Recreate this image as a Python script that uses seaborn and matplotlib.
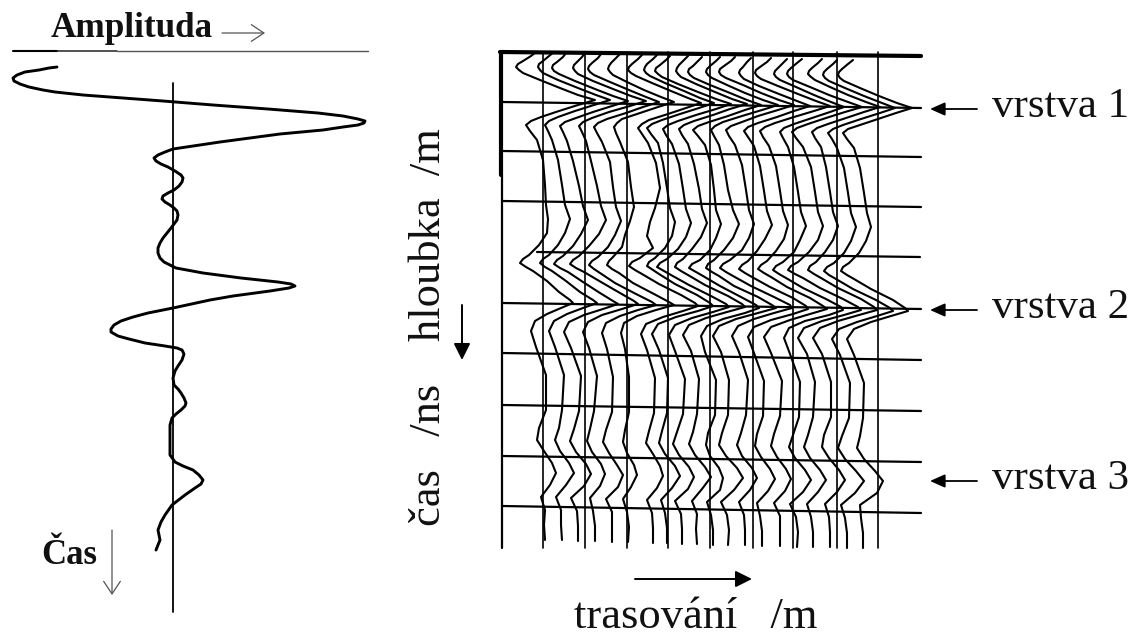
import matplotlib
matplotlib.use('Agg')
import matplotlib.pyplot as plt
import pandas as pd
import seaborn as sns

sns.set_style("white")
plt.rcParams['font.family'] = ['Liberation Serif', 'DejaVu Serif']

# left panel: single wavelet, sample positions in picture units
wavelet_time = [67, 68, 70, 72, 75, 78, 81, 84, 87, 90, 92, 95, 98, 101, 105, 109, 113, 116, 119, 121, 123, 125, 127, 130,
                134, 142, 149, 152, 155, 158, 161, 164, 167, 171, 175, 178, 182, 186, 190, 193, 196, 199, 202, 205, 208, 211,
                215, 220, 228, 238, 243, 248, 253, 258, 262, 265, 268, 273, 278, 282, 284, 286, 288, 291, 296, 300, 308, 313,
                317, 321, 325, 329, 332, 336, 339, 343, 346, 348, 350, 354, 360, 366, 371, 378, 385, 389, 393, 398, 403, 406,
                410, 414, 418, 425, 440, 455, 462, 466, 470, 475, 480, 484, 488, 495, 505, 515, 522, 530, 540, 550]
wavelet_amp = [-116, -124, -134, -148, -156, -160, -159, -153, -144, -130, -118, -90, -50, -10, 40, 95, 145, 170, 185, 192, 191,
               185, 170, 150, 107, 47, 0, -8, -15, -19, -17, -12, -5, 2, 8, 10, 9, 6, 1, -5, -10, -11, -8, -3, 1, 4, 5, 4, -2,
               -10, -13, -15, -15, -13, -9, -3, 3, 30, 68, 105, 118, 122, 116, 97, 60, 37, 0, -25, -40, -52, -59, -62, -62,
               -55, -44, -28, -8, 4, 9, 11, 9, 5, 2, 0, 1, 5, 8, 11, 13, 12, 8, 3, -1, -3, -3, -3, 2, 10, 20, 26, 30, 28, 22,
               12, -1, -8, -12, -15, -13, -17]

# right panel: radargram, one offset list per trace, all read at trace_depth
trace_depth = [57, 61, 66, 69, 72, 75, 78, 85, 93, 100, 105, 110, 116, 122, 126, 130, 136, 145, 165, 190, 210, 224, 238, 250, 260, 264, 268, 272,
               276, 286, 297, 305, 308, 313, 319, 326, 336, 352, 380, 415, 433, 445, 456, 468, 478, 490, 502, 515, 530, 545]
trace_base = [545, 562, 578, 595, 612, 628, 653, 667, 682, 697, 713, 728, 745, 762, 780, 797, 813, 830, 847, 863]
trace_tilt = [-5, -5, -4, -4, -3, -3, -2, -2, -1, -1, 0, 0, 0, 1, 1, 2, 2, 2, 3, 3]
trace_offset = [
    [-9, -14, -22, -27, -29, -26, -22, -5, 15, 33, 50, 33, 14, -4, -14, -19, -15, -8, -2, 0, 1, 3, 2, -6, -16, -22, -25, -19, -12, 2, 14, 25, 28, 16, 2, -10, -14, -9, 1, 1, -6, -8, -1, 7, 11, 5, -4, 0, -1, 0],
    [-8, -13, -19, -23, -24, -22, -19, -4, 16, 34, 48, 32, 13, -4, -13, -17, -14, -10, -4, 0, 3, 8, 3, -4, -13, -19, -22, -17, -10, 4, 18, 31, 35, 21, 5, -8, -13, -7, 2, 0, -3, -7, -2, 7, 12, 4, -6, -1, -1, 0],
    [-12, -15, -21, -25, -26, -24, -19, -3, 17, 35, 50, 34, 15, -2, -13, -18, -15, -11, -5, 1, 5, 10, 3, -5, -15, -21, -24, -18, -10, 5, 22, 35, 40, 25, 6, -9, -14, -7, 3, 1, -4, -8, -2, 8, 13, 6, -7, -1, 0, 0],
    [-10, -13, -18, -21, -22, -20, -17, -2, 18, 36, 51, 35, 14, -3, -12, -16, -13, -9, -4, 2, 6, 11, 4, -6, -16, -22, -25, -19, -11, 6, 25, 39, 43, 27, 7, -7, -12, -6, 2, -1, -5, -8, -3, 6, 10, 5, -5, -2, 0, 0],
    [-11, -14, -20, -23, -24, -22, -18, -2, 17, 34, 47, 31, 14, -5, -14, -18, -15, -10, -2, 1, 4, 9, 3, -4, -14, -20, -23, -18, -12, 3, 24, 40, 44, 26, 8, -6, -10, -5, 1, 0, -6, -9, -3, 5, 11, 6, -6, 0, 0, 0],
    [-8, -12, -17, -19, -20, -18, -15, -1, 16, 33, 46, 30, 12, -6, -11, -14, -12, -8, 0, 3, 6, 2, -3, -6, -15, -19, -21, -16, -9, 5, 26, 41, 46, 28, 9, -4, -7, -3, 1, 1, -3, -5, -1, 6, 9, 3, -5, -1, 1, 0],
    [-11, -15, -21, -24, -25, -22, -17, -1, 18, 35, 48, 33, 15, -4, -11, -15, -11, -5, 3, 7, 2, -3, -6, 0, -13, -21, -24, -18, -11, 6, 28, 42, 45, 30, 10, -7, -12, -6, 2, 1, -4, -7, 0, 7, 10, 4, -6, -1, 0, 0],
    [-10, -14, -20, -22, -23, -21, -17, -2, 17, 33, 47, 32, 13, -5, -15, -20, -16, -9, -4, 0, 3, 8, 5, -2, -12, -18, -20, -14, -8, 8, 30, 43, 46, 31, 9, -9, -15, -8, 1, 0, -5, -8, -2, 8, 13, 5, -6, -2, 0, 0],
    [-12, -16, -22, -26, -27, -24, -20, -4, 16, 34, 49, 34, 14, -4, -14, -19, -16, -10, -3, 1, 4, 9, 4, -4, -15, -22, -25, -18, -11, 7, 29, 44, 47, 31, 10, -7, -13, -7, 3, 1, -5, -9, -3, 7, 12, 6, -7, -1, 0, 0],
    [-9, -13, -18, -20, -21, -19, -16, -1, 18, 35, 50, 33, 16, -3, -13, -18, -15, -9, -3, 2, 5, 10, 4, -5, -14, -20, -22, -16, -9, 8, 31, 45, 48, 30, 9, -8, -14, -6, 2, 0, -4, -8, -2, 8, 14, 5, -5, 0, -1, 0],
    [-11, -15, -20, -24, -25, -23, -19, -3, 17, 34, 48, 32, 15, -4, -15, -20, -15, -8, -2, 1, 3, 8, 3, -3, -13, -21, -24, -17, -10, 7, 28, 43, 46, 32, 10, -6, -12, -8, 3, 2, -5, -7, -3, 6, 10, 7, -6, -2, 0, 0],
    [-8, -12, -18, -21, -22, -20, -16, -1, 17, 35, 50, 34, 14, -5, -13, -17, -14, -9, -4, 0, 5, 11, 5, -4, -14, -20, -22, -16, -9, 6, 30, 44, 48, 30, 8, -9, -15, -7, 1, 0, -6, -9, -2, 9, 15, 6, -7, -1, 1, 0],
    [-10, -14, -21, -25, -26, -24, -19, -2, 16, 34, 49, 33, 13, -3, -14, -19, -16, -10, -3, 1, 4, 9, 4, -3, -15, -22, -25, -19, -12, 6, 29, 45, 47, 29, 9, -7, -13, -6, 3, 1, -4, -8, -3, 7, 12, 5, -6, -1, 0, 0],
    [-11, -15, -19, -22, -23, -21, -18, -3, 17, 35, 48, 32, 15, -4, -14, -18, -14, -8, -2, 2, 5, 10, 3, -5, -14, -20, -23, -17, -10, 8, 31, 44, 46, 31, 9, -8, -14, -8, 2, 1, -5, -7, -1, 8, 13, 6, -5, -2, 0, 0],
    [-9, -13, -20, -24, -25, -23, -19, -2, 18, 36, 50, 34, 14, -5, -15, -20, -17, -11, -4, 0, 3, 8, 4, -4, -13, -19, -22, -16, -9, 7, 30, 43, 47, 30, 10, -9, -16, -9, 2, 0, -6, -9, -3, 6, 11, 5, -6, 0, 0, 0],
    [-10, -14, -19, -22, -23, -21, -17, -1, 17, 34, 47, 33, 15, -3, -13, -17, -14, -9, -3, 1, 4, 9, 3, -3, -14, -21, -24, -18, -11, 6, 29, 44, 46, 32, 8, -8, -13, -7, 3, 2, -4, -8, -2, 8, 14, 6, -7, -1, 1, 0],
    [-11, -16, -22, -25, -26, -24, -20, -3, 16, 35, 49, 32, 13, -5, -16, -21, -17, -10, -2, 2, 5, 10, 5, -4, -15, -22, -25, -18, -10, 7, 30, 45, 48, 31, 9, -9, -15, -6, 2, 0, -5, -9, -3, 7, 13, 5, -6, -2, 0, 0],
    [-8, -12, -18, -21, -22, -19, -15, 0, 18, 36, 50, 34, 16, -2, -13, -18, -15, -9, -4, 0, 3, 8, 3, -5, -14, -20, -22, -16, -9, 8, 31, 44, 47, 29, 8, -10, -17, -8, 1, 1, -6, -8, -1, 9, 15, 7, -5, -1, 0, 0],
    [-10, -14, -20, -23, -24, -22, -18, -2, 17, 35, 48, 33, 14, -4, -14, -19, -15, -10, -3, 1, 4, 9, 4, -3, -13, -20, -23, -18, -11, 6, 29, 43, 46, 30, 10, -8, -15, -7, 3, 2, -5, -9, -2, 9, 17, 8, -6, -2, 0, 0],
    [-10, -15, -21, -24, -25, -23, -19, -3, 16, 34, 49, 33, 15, -3, -15, -20, -16, -9, -3, 1, 4, 8, 3, -4, -14, -20, -22, -16, -9, 8, 30, 42, 45, 28, 8, -9, -16, -9, 1, 0, -3, -6, 1, 12, 20, 14, -3, -2, 0, 0],
]

# survey grid of the radargram
grid_x = [543, 585, 627, 668, 710, 753, 793, 837, 878]
grid_left = [500, 502, 502, 502, 537, 502, 502, 502, 502, 502]
grid_right = [921, 921, 921, 921, 920, 921, 921, 921, 921, 921]
grid_y_left = [52, 102, 151, 201, 252, 303, 353, 405, 456, 506]
grid_y_right = [56, 108, 157, 207, 257, 309, 360, 411, 462, 513]

layer_labels = ['vrstva 1', 'vrstva 2', 'vrstva 3']
layer_y = [109, 310, 481]

rows = []
for i, offsets in enumerate(trace_offset):
    for depth, off in zip(trace_depth, offsets):
        rows.append({'trace': i, 'x': trace_base[i] + off, 'y': depth + trace_tilt[i]})
df_traces = pd.DataFrame(rows)
df_wavelet = pd.DataFrame({'x': [173 + a for a in wavelet_amp], 'y': wavelet_time})

fig = plt.figure(figsize=(11.35, 6.39), dpi=100)
ax = fig.add_axes([0, 0, 1, 1])
ax.set_xlim(0, 1135)
ax.set_ylim(639, 0)
ax.axis('off')

# left panel
ax.plot([173, 173], [83, 612], color='black', lw=1.3)
ax.plot([13, 57], [51, 51], color='black', lw=1.5)
ax.plot([57, 117], [51, 51], color='#222222', lw=1.1)
ax.plot([117, 368], [51, 51], color='#555555', lw=1.0)
sns.lineplot(data=df_wavelet, x='x', y='y', sort=False, estimator=None, color='black', lw=2.1, ax=ax)
ax.text(51, 37, 'Amplituda', fontsize=25.3, fontweight='bold', va='baseline', ha='left', color='#111111')
ax.text(41, 564, 'Čas', fontsize=25, fontweight='bold', va='baseline', ha='left', color='#111111')
thin = dict(arrowstyle='->,head_width=0.6,head_length=0.9', color='#555555', lw=0.9, shrinkA=0, shrinkB=0)
ax.annotate('', xy=(265, 33), xytext=(222, 33), arrowprops=thin)
ax.annotate('', xy=(112, 595), xytext=(112, 530), arrowprops=thin)

# right panel grid
for x in grid_x:
    ax.plot([x, x], [52, 548], color='black', lw=1.2)
ax.plot([501, 501], [52, 175], color='black', lw=3.0)
ax.plot([502, 502], [175, 548], color='black', lw=1.6)
for j in range(len(grid_y_left)):
    ax.plot([grid_left[j], grid_right[j]], [grid_y_left[j], grid_y_right[j]], color='black',
            lw=3.0 if j == 0 else 1.6)

sns.lineplot(data=df_traces, x='x', y='y', units='trace', sort=False, estimator=None,
             color='black', lw=1.5, ax=ax)

solid = dict(arrowstyle='-|>,head_width=0.5,head_length=1.0', color='black', lw=1.4, shrinkA=0, shrinkB=0)
small = dict(arrowstyle='-|>,head_width=0.4,head_length=0.9', color='black', lw=1.3, shrinkA=0, shrinkB=0)
for label, y in zip(layer_labels, layer_y):
    ax.annotate('', xy=(930, y), xytext=(977, y), arrowprops=small)
    ax.text(992, y + 8, label, fontsize=31, va='baseline', ha='left', color='#111111')

ax.text(429, 235, 'hloubka  /m', fontsize=32, rotation=90, va='center', ha='center', color='#111111')
ax.text(429, 455, 'čas   /ns', fontsize=32, rotation=90, va='center', ha='center', color='#111111')
ax.text(696, 628, 'trasování   /m', fontsize=32, va='baseline', ha='center', color='#111111')
ax.annotate('', xy=(462, 360), xytext=(462, 305), arrowprops=solid)
ax.annotate('', xy=(752, 579), xytext=(635, 579), arrowprops=solid)

fig.savefig('out.png', dpi=100)
